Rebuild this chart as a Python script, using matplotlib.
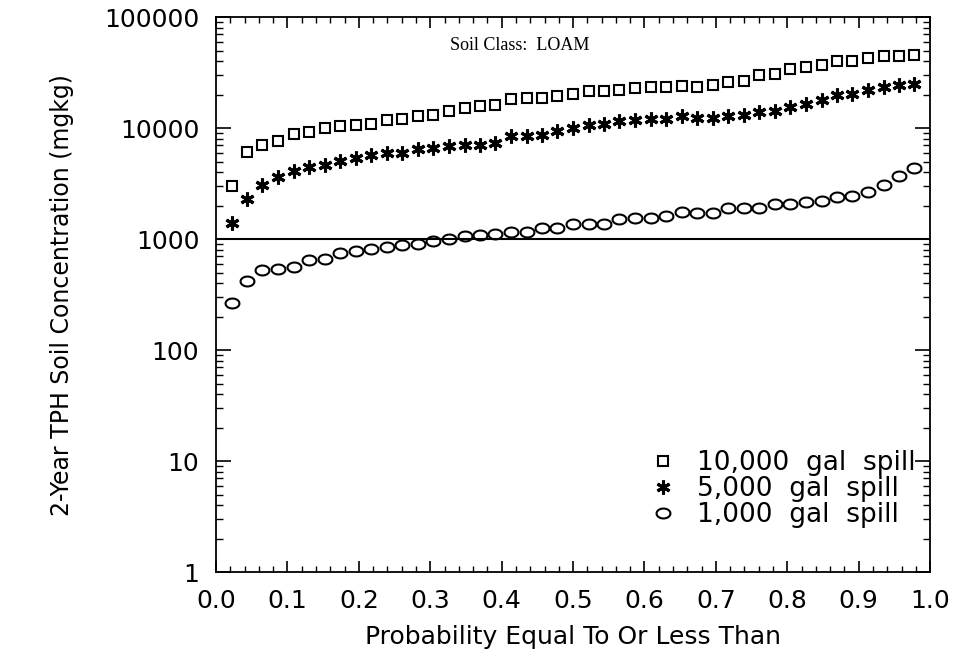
import numpy as np
import matplotlib
matplotlib.use("Agg")
import matplotlib.pyplot as plt
from matplotlib.path import Path
from matplotlib.ticker import FixedLocator, LogLocator, NullFormatter

# probability (plotting positions) shared by all three series
prob = [0.022, 0.043, 0.065, 0.087, 0.109, 0.130, 0.152, 0.174, 0.196,
        0.217, 0.239, 0.261, 0.283, 0.304, 0.326, 0.348, 0.370, 0.391,
        0.413, 0.435, 0.457, 0.478, 0.500, 0.522, 0.543, 0.565, 0.587,
        0.609, 0.630, 0.652, 0.674, 0.696, 0.717, 0.739, 0.761, 0.783,
        0.804, 0.826, 0.848, 0.870, 0.891, 0.913, 0.935, 0.957, 0.978]

# 2-year TPH soil concentration (mg/kg)
spill_10000 = [3040, 6080, 7080, 7690, 8950, 9200, 10100, 10400, 10600,
               11000, 11800, 12000, 12800, 13200, 14300, 15200, 16000, 16200,
               18400, 18600, 18600, 19400, 20500, 21700, 21700, 22000, 23000,
               23500, 23500, 23800, 23500, 24300, 26000, 26800, 29900, 31000,
               33900, 35800, 37300, 40000, 40000, 42800, 44700, 44700, 45400]
spill_5000 = [1410, 2290, 3080, 3620, 4150, 4450, 4670, 5110, 5370,
              5710, 5950, 5950, 6470, 6610, 6930, 7060, 7060, 7400,
              8500, 8500, 8690, 9440, 9980, 10700, 10800, 11600, 11900,
              12100, 12100, 12800, 12300, 12300, 12800, 13200, 13900, 14200,
              15400, 16500, 17800, 20000, 20400, 21900, 23500, 24300, 25200]
spill_1000 = [265, 424, 528, 537, 560, 651, 669, 748, 780,
              813, 858, 894, 907, 971, 1010, 1060, 1090, 1110,
              1150, 1170, 1250, 1270, 1360, 1360, 1380, 1510, 1560,
              1560, 1620, 1770, 1720, 1720, 1890, 1890, 1920, 2070,
              2070, 2150, 2220, 2380, 2470, 2680, 3080, 3740, 4350]

labels = ["10,000  gal  spill", "5,000  gal  spill", "1,000  gal  spill"]
threshold = 1000

# wide open ellipse marker for the circles
t = np.linspace(0, 2 * np.pi, 40)
ellipse = Path(np.column_stack([1.4 * np.cos(t), np.sin(t)]))

fig = plt.figure(figsize=(9.54, 6.6), dpi=100)
ax = fig.add_axes([0.2264, 0.133, 0.7486, 0.841])

ax.plot(prob, spill_10000, linestyle="none", marker="s", markersize=7.5,
        markerfacecolor="none", markeredgecolor="black", markeredgewidth=1.5,
        label=labels[0])
ax.plot(prob, spill_5000, linestyle="none", marker=(6, 2, 0), markersize=10,
        color="black", markeredgewidth=2.2, label=labels[1])
ax.plot(prob, spill_1000, linestyle="none", marker=ellipse, markersize=10,
        markerfacecolor="none", markeredgecolor="black", markeredgewidth=1.5,
        label=labels[2])

ax.axhline(threshold, color="black", linewidth=1.5)

ax.set_yscale("log")
ax.set_ylim(1, 100000)
ax.set_xlim(0, 1)

ax.yaxis.set_major_locator(FixedLocator([1, 10, 100, 1000, 10000, 100000]))
ax.set_yticklabels(["1", "10", "100", "1000", "10000", "100000"])
ax.yaxis.set_minor_locator(LogLocator(base=10, subs=np.arange(2, 10)))
ax.yaxis.set_minor_formatter(NullFormatter())

ax.set_xticks(np.arange(0, 1.01, 0.1))
ax.set_xticklabels(["0.0", "0.1", "0.2", "0.3", "0.4", "0.5", "0.6",
                    "0.7", "0.8", "0.9", "1.0"])
ax.set_xticks(np.arange(0, 1.001, 0.02), minor=True)

ax.tick_params(axis="y", which="both", direction="in", left=True, right=True,
               labelsize=18, pad=12)
ax.tick_params(axis="y", which="major", length=11, width=1.2)
ax.tick_params(axis="y", which="minor", length=5, width=1.0)
ax.tick_params(axis="x", which="both", direction="in", top=True,
               bottom=True, labelsize=18, pad=12)
ax.tick_params(axis="x", which="major", length=8, width=1.2)
ax.tick_params(axis="x", which="minor", length=4, width=1.0)

for side in ax.spines.values():
    side.set_linewidth(1.3)

ax.set_xlabel("Probability Equal To Or Less Than", fontsize=18, labelpad=9)
ax.set_ylabel("2-Year TPH Soil Concentration (mgkg)", fontsize=17,
              labelpad=22)

ax.text(0.425, 0.965, "Soil Class:  LOAM", transform=ax.transAxes,
        ha="center", va="top", fontsize=13, family="Liberation Serif")

ax.legend(loc="lower right", bbox_to_anchor=(0.995, 0.06), frameon=False,
          fontsize=19, handlelength=1.0, handletextpad=0.8, labelspacing=0.0,
          borderaxespad=0)

fig.savefig("out.png", dpi=100)
